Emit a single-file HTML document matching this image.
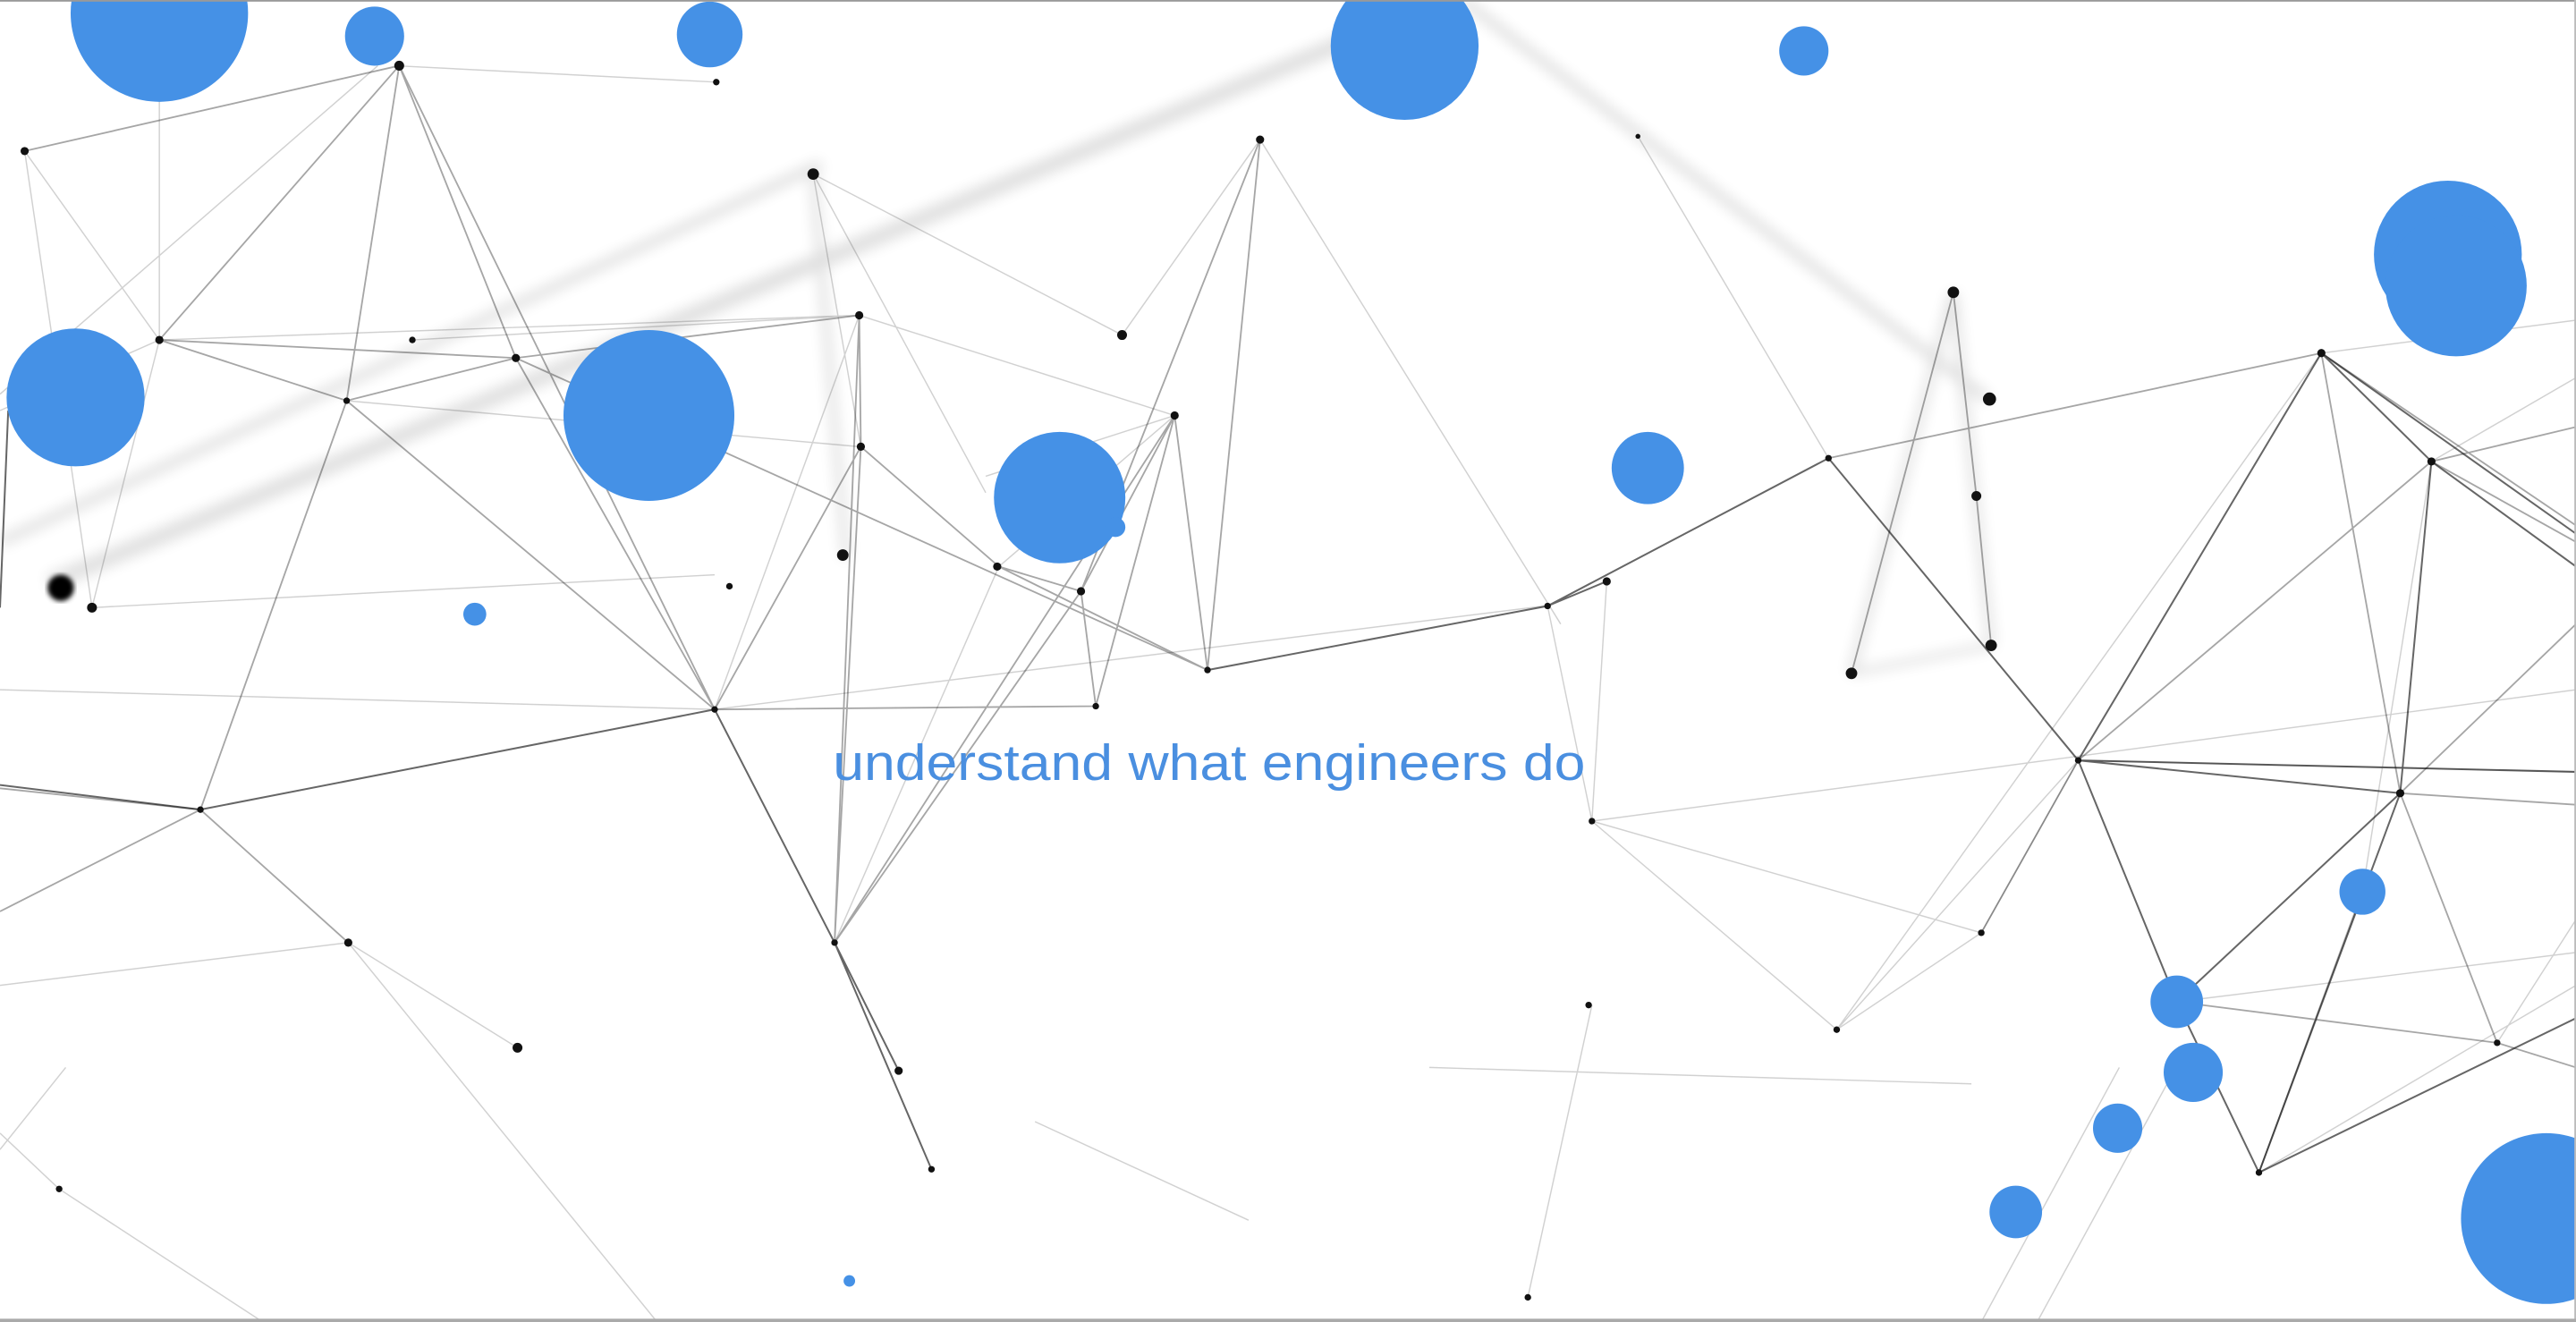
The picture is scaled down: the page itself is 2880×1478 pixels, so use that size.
<!DOCTYPE html>
<html><head><meta charset="utf-8"><style>
html,body{margin:0;padding:0;background:#fff;width:2880px;height:1478px;overflow:hidden}
svg{display:block}
</style></head><body>
<svg width="2880" height="1478" viewBox="0 0 1568 805" preserveAspectRatio="none" xmlns="http://www.w3.org/2000/svg">
<defs><filter id="b" x="-20%" y="-20%" width="140%" height="140%"><feGaussianBlur stdDeviation="4"/></filter>
<filter id="b2"><feGaussianBlur stdDeviation="1.5"/></filter></defs>
<rect width="1568" height="805" fill="#fff"/>
<!-- blurred background strands -->
<g stroke="#000" fill="none" filter="url(#b)" opacity="0.12">
<path d="M30 355 L820 25" stroke-width="10"/>
<path d="M0 330 L500 100" stroke-width="6"/>
<path d="M890 0 L1210 243" stroke-width="6"/>
<path d="M1189 178 L1127 410" stroke-width="5"/>
<path d="M1189 178 L1212 393" stroke-width="5"/>
<path d="M495 106 L515 340" stroke-width="5"/>
<path d="M1127 410 L1212 393" stroke-width="4"/>
</g>
<!-- light lines -->
<g stroke="#000" stroke-width="0.8" fill="none" opacity="0.18">
<path d="M15 92 L97 207 L56 370 M15 92 L56 370 M97 207 L97 60 M251 207 L523 192 M97 207 L523 192 M523 192 L715 253 M715 253 L608 345 M683 204 L495 106 M495 106 L524 272 M495 106 L600 300 M767 85 L683 204 M767 85 L950 380 M942 369 L969 500 L1118 627 L1265 463 M969 500 L1206 568 M978 354 L969 500 M969 500 L1568 420 M1118 627 L1206 568 M1206 568 L1265 463 M1118 627 L1413 215 M969 612 L930 790 M0 600 L212 574 L315 638 M36 724 L160 805 M212 574 L400 805 M630 683 L760 743 M870 650 L1200 660 M435 432 L940 369 M523 192 L435 432 M608 345 L508 574 M1568 470 L1265 463 M1480 281 L1568 230 M1520 635 L1568 560 M1375 714 L1568 600 M1325 610 L1568 580 M1206 805 L1290 650 M1240 805 L1330 640 M997 83 L1113 279 M1413 215 L1568 195 M0 420 L435 432 M36 724 L0 690 M0 250 L97 207 M240 40 L436 50 M0 240 L230 40 M40 650 L0 700 M1480 281 L1438 543 M600 290 L715 253 M211 244 L523 272 M56 370 L435 350"/>
</g>
<!-- medium lines -->
<g stroke="#000" stroke-width="1" fill="none" opacity="0.35">
<path d="M243 40 L15 92 M243 40 L97 207 M243 40 L211 244 M243 40 L314 218 M243 40 L435 432 M211 244 L435 432 M314 218 L435 432 M211 244 L122 493 M523 192 L524 272 L608 345 L658 360 M524 272 L435 432 M523 192 L508 574 M524 272 L508 574 M715 253 L508 574 M715 253 L735 408 M715 253 L667 430 M715 253 L658 360 M658 360 L667 430 M658 360 L508 574 M608 345 L735 408 M767 85 L735 408 M767 85 L658 360 M435 432 L667 430 M97 207 L314 218 L523 192 M97 207 L211 244 M314 218 L735 408 M211 244 L314 218 M1113 279 L1413 215 M1413 215 L1568 320 M1480 281 L1568 260 M1461 483 L1568 380 M1461 483 L1568 490 M1461 483 L1520 635 L1568 650 M1325 610 L1520 635 M1265 463 L1206 568 M1189 178 L1203 302 L1212 393 M1127 410 L1189 178 M0 480 L122 493 M122 493 L0 555 M122 493 L212 574 M1265 463 L1480 281 M1480 281 L1568 330 M1375 714 L1438 543 M1413 215 L1461 483"/>
</g>
<!-- dark lines -->
<g stroke="#000" stroke-width="1.1" fill="none" opacity="0.6">
<path d="M122 493 L435 432 L508 574 L567 712 M508 574 L547 652 M0 478 L122 493 M735 408 L942 369 L1113 279 L1265 463 L1413 215 L1480 281 L1461 483 L1265 463 L1325 610 L1461 483 L1375 714 L1325 610 M1413 215 L1568 325 M1480 281 L1568 345 M1375 714 L1568 620 M1265 463 L1461 483 M942 369 L978 354 M1265 463 L1568 470 M5 250 L0 370"/>
</g>
<!-- nodes -->
<g fill="#111">
<circle cx="15" cy="92" r="2.5"/><circle cx="243" cy="40" r="3"/><circle cx="97" cy="207" r="2.5"/><circle cx="211" cy="244" r="2"/><circle cx="251" cy="207" r="2"/><circle cx="314" cy="218" r="2.5"/><circle cx="523" cy="192" r="2.5"/><circle cx="524" cy="272" r="2.5"/><circle cx="435" cy="432" r="2"/><circle cx="122" cy="493" r="2"/><circle cx="56" cy="370" r="3"/><circle cx="495" cy="106" r="3.5"/><circle cx="767" cy="85" r="2.5"/><circle cx="715" cy="253" r="2.5"/><circle cx="607" cy="345" r="2.5"/><circle cx="658" cy="360" r="2.5"/><circle cx="667" cy="430" r="2"/><circle cx="735" cy="408" r="2"/><circle cx="683" cy="204" r="3"/><circle cx="508" cy="574" r="2"/><circle cx="547" cy="652" r="2.5"/><circle cx="567" cy="712" r="2"/><circle cx="942" cy="369" r="2"/><circle cx="978" cy="354" r="2.5"/><circle cx="1113" cy="279" r="2"/><circle cx="1265" cy="463" r="2"/><circle cx="1413" cy="215" r="2.5"/><circle cx="1480" cy="281" r="2.5"/><circle cx="1461" cy="483" r="2.5"/><circle cx="969" cy="500" r="2"/><circle cx="1118" cy="627" r="2"/><circle cx="1206" cy="568" r="2"/><circle cx="1375" cy="714" r="2"/><circle cx="1520" cy="635" r="2"/><circle cx="212" cy="574" r="2.5"/><circle cx="315" cy="638" r="3"/><circle cx="1189" cy="178" r="3.5"/><circle cx="1211" cy="243" r="4"/><circle cx="1203" cy="302" r="3"/><circle cx="1212" cy="393" r="3.5"/><circle cx="1127" cy="410" r="3.5"/><circle cx="36" cy="724" r="2"/><circle cx="967" cy="612" r="2"/><circle cx="930" cy="790" r="2"/><circle cx="513" cy="338" r="3.5"/><circle cx="444" cy="357" r="2"/><circle cx="436" cy="50" r="2"/><circle cx="997" cy="83" r="1.5"/>
</g>
<circle cx="37" cy="358" r="8" fill="#000" filter="url(#b2)"/>
<!-- blue circles -->
<g fill="#4591e6">
<circle cx="97" cy="8" r="54"/><circle cx="228" cy="22" r="18"/><circle cx="432" cy="21" r="20"/><circle cx="855" cy="28" r="45"/><circle cx="1098" cy="31" r="15"/><circle cx="1490" cy="155" r="45"/><circle cx="1495" cy="174" r="43"/><circle cx="46" cy="242" r="42"/><circle cx="395" cy="253" r="52"/><circle cx="645" cy="303" r="40"/><circle cx="679" cy="321" r="6"/><circle cx="1003" cy="285" r="22"/><circle cx="289" cy="374" r="7"/><circle cx="1438" cy="543" r="14"/><circle cx="1325" cy="610" r="16"/><circle cx="1335" cy="653" r="18"/><circle cx="1289" cy="687" r="15"/><circle cx="1227" cy="738" r="16"/><circle cx="1550" cy="742" r="52"/><circle cx="517" cy="780" r="3.5"/>
</g>
<text x="507" y="475" font-family="Liberation Sans, sans-serif" font-size="31" fill="#4a8fe0" textLength="458" lengthAdjust="spacingAndGlyphs">understand what engineers do</text>
<rect x="0" y="0" width="1568" height="1" fill="#999"/>
<rect x="1567" y="0" width="1" height="805" fill="#bbb"/>
<rect x="0" y="803" width="1568" height="2" fill="#aaa"/>
</svg>
</body></html>
